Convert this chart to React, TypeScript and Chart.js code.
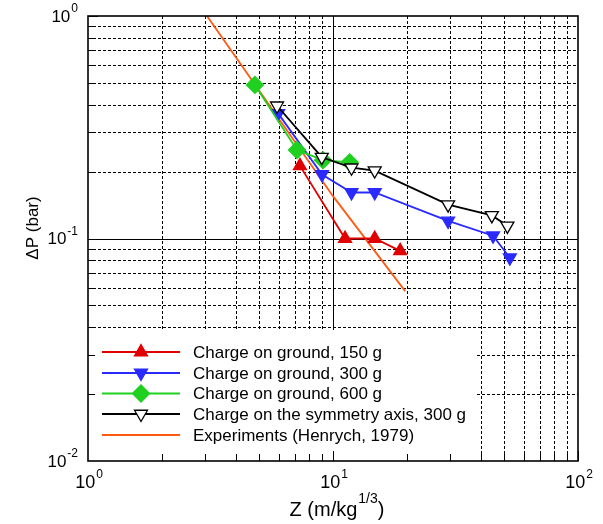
import { useEffect, useRef } from "react";
import { Chart, registerables } from "chart.js";
import { drawPoint } from "chart.js/helpers";

Chart.register(...registerables);

// Scaled distance Z (m/kg^1/3) and overpressure ΔP (bar) per series
const red150Z = [7.33, 11.2, 14.8, 18.8];
const red150P = [0.212, 0.1, 0.1, 0.088];
const blue300Z = [5.97, 9.02, 11.9, 14.8, 29.5, 45, 52.7];
const blue300P = [0.365, 0.194, 0.161, 0.161, 0.12, 0.103, 0.082];
const green600Z = [4.8, 7.13, 9.1, 11.7];
const green600P = [0.49, 0.25, 0.225, 0.22];
const axis300Z = [5.91, 9.0, 11.9, 14.8, 29.5, 44.5, 51.5];
const axis300P = [0.395, 0.232, 0.208, 0.202, 0.142, 0.127, 0.114];
const henrychZ = [3.06, 10, 19.7];
const henrychP = [1.0, 0.155, 0.058];

const seriesLabels = [
  "Charge on ground, 150 g",
  "Charge on ground, 300 g",
  "Charge on ground, 600 g",
  "Charge on the symmetry axis, 300 g",
  "Experiments (Henrych, 1979)",
];

const xDecades = [1, 10, 100];
const yDecades = [0.01, 0.1, 1];
const xTickExp = ["0", "1", "2"];
const yTickExp = ["-2", "-1", "0"];

const RED = "#e00000";
const BLUE = "#2a2aff";
const GREEN = "#20d020";
const BLACK = "#000000";
const ORANGE = "#ff5a10";

const FONT = '"Liberation Sans", Arial, Helvetica, sans-serif';

const pts = (xs: number[], ys: number[]) => xs.map((x, i) => ({ x, y: ys[i] }));

type Marker = {
  color: string;
  fill: string;
  pointStyle: any;
  rotation: number;
  radius: number;
};

const markers: (Marker | null)[] = [
  { color: RED, fill: RED, pointStyle: "triangle", rotation: 0, radius: 7.5 },
  { color: BLUE, fill: BLUE, pointStyle: "triangle", rotation: 180, radius: 7.5 },
  { color: GREEN, fill: GREEN, pointStyle: "rectRot", rotation: 0, radius: 8.5 },
  { color: BLACK, fill: "#ffffff", pointStyle: "triangle", rotation: 180, radius: 7.5 },
  null,
];
const lineColors = [RED, BLUE, GREEN, BLACK, ORANGE];

function drawPower(
  ctx: CanvasRenderingContext2D,
  base: string,
  exp: string,
  x: number,
  y: number,
  align: "right" | "center",
  size: number,
  expSize: number,
  lift: number,
  tail = ""
) {
  ctx.font = `${size}px ${FONT}`;
  const bw = ctx.measureText(base).width;
  const tw = tail ? ctx.measureText(tail).width : 0;
  ctx.font = `${expSize}px ${FONT}`;
  const ew = ctx.measureText(exp).width;
  const total = bw + 1 + ew + tw;
  const left = align === "right" ? x - total : x - total / 2;
  ctx.textAlign = "left";
  ctx.textBaseline = "middle";
  ctx.fillStyle = "#000";
  ctx.font = `${size}px ${FONT}`;
  ctx.fillText(base, left, y);
  if (tail) ctx.fillText(tail, left + bw + 1 + ew, y);
  ctx.font = `${expSize}px ${FONT}`;
  ctx.fillText(exp, left + bw + 1, y - lift);
}

const frameAndLegend = {
  id: "frameAndLegend",
  beforeDatasetsDraw(chart: any) {
    const { ctx, chartArea: a, scales } = chart;
    const xs = scales.x;
    const ys = scales.y;
    const boxTop = ys.getPixelForValue(0.04) + 3;
    const boxRight = 477;
    ctx.save();
    ctx.fillStyle = "#fff";
    ctx.fillRect(a.left, a.top, a.right - a.left, a.bottom - a.top);

    ctx.strokeStyle = "#000";
    ctx.lineWidth = 1;
    // minor dashed grid
    ctx.setLineDash([3, 2]);
    for (let d = 0; d < 2; d++) {
      for (let m = 2; m <= 9; m++) {
        const vx = xDecades[d] * m;
        const px = Math.round(xs.getPixelForValue(vx)) + 0.5;
        const bottom = px < boxRight ? boxTop : a.bottom;
        ctx.beginPath();
        ctx.moveTo(px, a.top);
        ctx.lineTo(px, bottom);
        ctx.stroke();
        const vy = yDecades[d] * m;
        const py = Math.round(ys.getPixelForValue(vy)) + 0.5;
        const left = py > boxTop ? boxRight : a.left;
        ctx.beginPath();
        ctx.moveTo(left, py);
        ctx.lineTo(a.right, py);
        ctx.stroke();
      }
    }
    // major solid grid
    ctx.setLineDash([]);
    const mx = Math.round(xs.getPixelForValue(10)) + 0.5;
    ctx.beginPath();
    ctx.moveTo(mx, a.top);
    ctx.lineTo(mx, boxTop);
    ctx.stroke();
    const my = Math.round(ys.getPixelForValue(0.1)) + 0.5;
    ctx.beginPath();
    ctx.moveTo(a.left, my);
    ctx.lineTo(a.right, my);
    ctx.stroke();
    ctx.restore();
  },
  afterDatasetsDraw(chart: any) {
    const { ctx, chartArea: a, scales } = chart;
    const xs = scales.x;
    const ys = scales.y;
    ctx.save();
    ctx.strokeStyle = "#000";
    ctx.lineWidth = 1;
    // inward ticks on the bottom and left axes
    for (let d = 0; d < 2; d++) {
      for (let m = 2; m <= 10; m++) {
        const len = m === 10 ? 10 : 7;
        const px = Math.round(xs.getPixelForValue(xDecades[d] * m)) + 0.5;
        ctx.beginPath();
        ctx.moveTo(px, a.bottom);
        ctx.lineTo(px, a.bottom - len);
        ctx.stroke();
        const py = Math.round(ys.getPixelForValue(yDecades[d] * m)) + 0.5;
        ctx.beginPath();
        ctx.moveTo(a.left, py);
        ctx.lineTo(a.left + len, py);
        ctx.stroke();
      }
    }
    // frame
    ctx.lineWidth = 1.6;
    ctx.strokeRect(a.left, a.top, a.right - a.left, a.bottom - a.top);

    // legend entries
    const rowY = [352, 373, 393.5, 414, 435];
    for (let i = 0; i < seriesLabels.length; i++) {
      const y = rowY[i];
      ctx.strokeStyle = lineColors[i];
      ctx.lineWidth = 1.8;
      ctx.beginPath();
      ctx.moveTo(102, y);
      ctx.lineTo(180, y);
      ctx.stroke();
      const mk = markers[i];
      if (mk) {
        ctx.fillStyle = mk.fill;
        ctx.strokeStyle = mk.color;
        ctx.lineWidth = 1.3;
        drawPoint(ctx, { pointStyle: mk.pointStyle, rotation: mk.rotation, radius: mk.radius, borderWidth: 1.3 }, 141, y);
      }
      ctx.fillStyle = "#000";
      ctx.font = `17px ${FONT}`;
      ctx.textAlign = "left";
      ctx.textBaseline = "middle";
      ctx.fillText(seriesLabels[i], 193, y + 1);
    }

    // tick labels
    for (let i = 0; i < 3; i++) {
      drawPower(ctx, "10", yTickExp[i], 78, ys.getPixelForValue(yDecades[i]) + 1, "right", 17, 12, 8);
      drawPower(ctx, "10", xTickExp[i], xs.getPixelForValue(xDecades[i]) + 1, 483, "center", 18, 12, 8);
    }

    // axis titles
    drawPower(ctx, "Z (m/kg", "1/3", 337, 510, "center", 20, 14, 11, ")");
    ctx.save();
    ctx.translate(33, 228);
    ctx.rotate(-Math.PI / 2);
    ctx.fillStyle = "#000";
    ctx.font = `17px ${FONT}`;
    ctx.textAlign = "center";
    ctx.textBaseline = "middle";
    ctx.fillText("\u0394P (bar)", 0, 0);
    ctx.restore();
    ctx.restore();
  },
};

export default function App() {
  const ref = useRef<HTMLCanvasElement | null>(null);
  useEffect(() => {
    if (!ref.current) return;
    const series = [
      pts(red150Z, red150P),
      pts(blue300Z, blue300P),
      pts(green600Z, green600P),
      pts(axis300Z, axis300P),
      pts(henrychZ, henrychP),
    ];
    const datasets = series.map((data, i) => {
      const mk = markers[i];
      return {
        label: seriesLabels[i],
        data,
        borderColor: lineColors[i],
        borderWidth: 1.8,
        backgroundColor: mk ? mk.fill : lineColors[i],
        pointBorderColor: mk ? mk.color : lineColors[i],
        pointBackgroundColor: mk ? mk.fill : lineColors[i],
        pointStyle: mk ? mk.pointStyle : "circle",
        pointRotation: mk ? mk.rotation : 0,
        pointRadius: mk ? mk.radius : 0,
        pointBorderWidth: 1.3,
        pointHoverRadius: mk ? mk.radius : 0,
        tension: 0,
        fill: false,
        order: i === 4 ? 10 : 4 - i,
      };
    });
    const chart = new Chart(ref.current, {
      type: "line",
      data: { datasets },
      options: {
        animation: false,
        responsive: false,
        devicePixelRatio: 1,
        layout: { padding: { left: 88, right: 25, top: 16, bottom: 63 } },
        plugins: { legend: { display: false }, tooltip: { enabled: false } },
        events: [],
        scales: {
          x: { type: "logarithmic", min: 1, max: 100, display: false },
          y: { type: "logarithmic", min: 0.01, max: 1, display: false },
        },
      },
      plugins: [frameAndLegend],
    });
    return () => chart.destroy();
  }, []);
  return (
    <div style={{ position: "fixed", left: 0, top: 0, width: 603, height: 524, background: "#fff" }}>
      <canvas ref={ref} width={603} height={524} />
    </div>
  );
}
